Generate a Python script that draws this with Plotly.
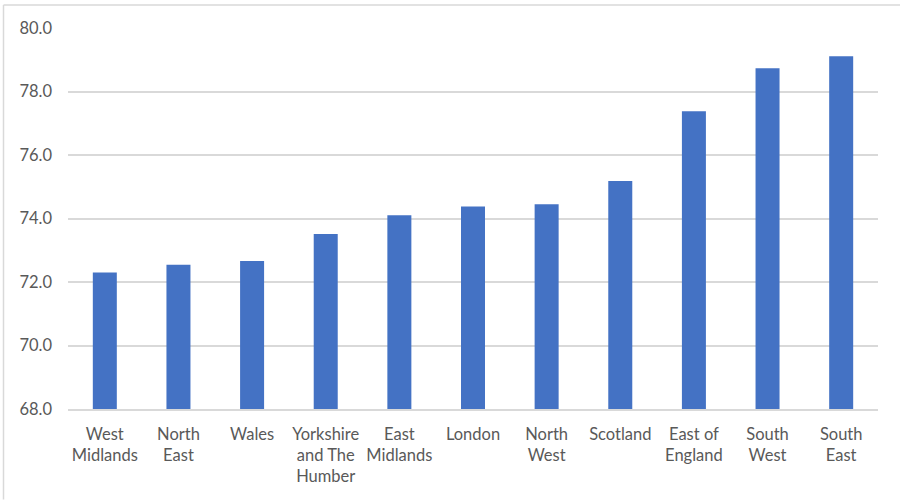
import plotly.graph_objects as go

# Regions ordered by value
regions = [
    "West<br>Midlands", "North<br>East", "Wales", "Yorkshire<br>and The<br>Humber",
    "East<br>Midlands", "London", "North<br>West", "Scotland",
    "East of<br>England", "South<br>West", "South<br>East",
]
values = [72.30, 72.54, 72.66, 73.51, 74.10, 74.38, 74.45, 75.18, 77.38, 78.73, 79.11]
y_ticks = [68, 70, 72, 74, 76, 78, 80]

BAR = "#4472C4"
GRID = "#D9D9D9"
TEXT = "#595959"
FONT = "Lato"
FSIZE = 16.5

W, H = 900, 500
L, R, T, B = 68, 22, 27.5, 90.7
pw, ph = W - L - R, H - T - B

def px_to_paper_x(px):
    return (px - L) / pw

def px_to_paper_y(py):
    return (H - B - py) / ph

fig = go.Figure(
    go.Bar(
        x=list(range(len(regions))),
        y=[v - y_ticks[0] for v in values],
        base=y_ticks[0],
        marker=dict(color=BAR, line=dict(width=0)),
        width=0.326,
        hoverinfo="skip",
    )
)

fig.update_layout(
    width=W,
    height=H,
    margin=dict(l=L, r=R, t=T, b=B, pad=0),
    paper_bgcolor="white",
    plot_bgcolor="white",
    showlegend=False,
    font=dict(family=FONT, size=FSIZE, color=TEXT),
    xaxis=dict(
        range=[-0.5, len(regions) - 0.5],
        tickvals=list(range(len(regions))),
        ticktext=regions,
        showgrid=False,
        showline=True,
        linecolor=GRID,
        linewidth=1.5,
        ticks="",
        tickfont=dict(family=FONT, size=FSIZE, color=TEXT),
        ticklabelstandoff=9,
        zeroline=False,
    ),
    yaxis=dict(
        range=[y_ticks[0], y_ticks[-1]],
        tickvals=y_ticks,
        tickformat=".1f",
        showgrid=True,
        gridcolor=GRID,
        gridwidth=1.5,
        showline=False,
        zeroline=False,
        ticks="",
        ticklabelstandoff=15,
        tickfont=dict(family=FONT, size=FSIZE, color=TEXT),
    ),
    shapes=[
        # chart-area frame (top and left edges)
        dict(type="line", xref="paper", yref="paper",
             x0=px_to_paper_x(3.5), x1=px_to_paper_x(W),
             y0=px_to_paper_y(4.5), y1=px_to_paper_y(4.5),
             line=dict(color=GRID, width=1.5)),
        dict(type="line", xref="paper", yref="paper",
             x0=px_to_paper_x(3.5), x1=px_to_paper_x(3.5),
             y0=px_to_paper_y(4.5), y1=px_to_paper_y(H),
             line=dict(color=GRID, width=1.5)),
    ],
)

fig.write_html("out.html")
